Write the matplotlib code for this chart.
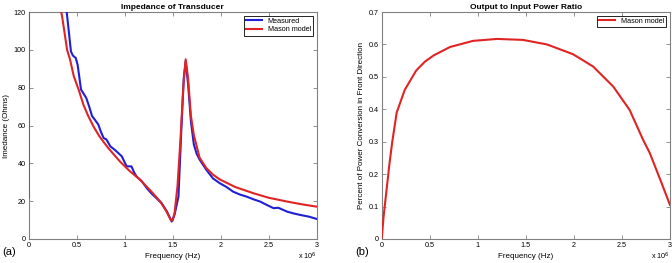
import matplotlib
matplotlib.use('Agg')
import matplotlib.pyplot as plt

plt.rcParams['font.family'] = ['Liberation Sans', 'DejaVu Sans']

# impedance, frequency in MHz
f_meas = [0.385, 0.396, 0.44, 0.46, 0.49, 0.51, 0.545, 0.57, 0.60, 0.63, 0.66, 0.69,
          0.725, 0.75, 0.78, 0.81, 0.85, 0.90, 0.97, 1.02, 1.07, 1.10, 1.125, 1.18,
          1.23, 1.28, 1.33, 1.385, 1.44, 1.49, 1.52, 1.56, 1.59, 1.615, 1.635, 1.66,
          1.69, 1.72, 1.75, 1.78, 1.85, 1.92, 1.99, 2.06, 2.13, 2.20, 2.27, 2.34,
          2.41, 2.48, 2.55, 2.60, 2.69, 2.76, 2.83, 2.92, 3.0]
z_meas = [126, 120, 99.2, 97, 95.7, 92, 79, 77, 74.5, 70, 65, 63,
          60.5, 57, 53.4, 52.6, 49, 47, 43.7, 38.4, 38.4, 35, 33, 30.4,
          26.9, 24, 21.6, 18.9, 14.5, 9.2, 13, 22.4, 57.8, 85, 94, 82,
          62, 50, 45, 42, 36.6, 32, 29.5, 27.5, 25, 23.5, 22.4, 21,
          19.8, 18, 16.3, 16.5, 14.5, 13.5, 12.7, 11.8, 10.6]

f_model = [0.0, 0.004, 0.32, 0.35, 0.40, 0.43, 0.47, 0.52, 0.57, 0.62, 0.68, 0.74,
           0.83, 0.95, 1.05, 1.16, 1.27, 1.37, 1.43, 1.48, 1.50, 1.52, 1.55, 1.58,
           1.61, 1.635, 1.66, 1.69, 1.72, 1.78, 1.85, 1.92, 1.99, 2.15, 2.34, 2.5,
           2.69, 2.85, 3.0]
z_model = [22, 300, 125, 117, 100, 95, 86, 79, 71, 65, 59, 54,
           48, 41, 36, 31.3, 25.5, 19.8, 15, 10, 9.8, 14, 28, 52,
           80, 95, 85, 65, 55, 43, 37.5, 34, 31.5, 27.5, 24.2, 21.8,
           19.8, 18.3, 17.1]

# power ratio
f_ratio = [0.0, 0.02, 0.05, 0.08, 0.11, 0.156, 0.24, 0.36, 0.45, 0.54, 0.71, 0.95,
           1.2, 1.47, 1.72, 1.99, 2.2, 2.41, 2.58, 2.72, 2.79, 2.9, 3.0]
p_ratio = [0.0, 0.07, 0.15, 0.23, 0.30, 0.39, 0.46, 0.52, 0.547, 0.566, 0.592, 0.611,
           0.617, 0.614, 0.60, 0.57, 0.532, 0.47, 0.398, 0.306, 0.265, 0.182, 0.105]

BLUE = '#1f1fd8'
RED = '#e02424'
GRAY = '#808080'
FS = 5.2


def style(ax):
    for s in ax.spines.values():
        s.set_color(GRAY)
        s.set_linewidth(0.8)
    ax.tick_params(direction='in', top=True, right=True, length=3, width=0.6,
                   color=GRAY, labelsize=FS, pad=2)
    ax.set_xlim(0, 3)
    ax.set_xticks([0, 0.5, 1, 1.5, 2, 2.5, 3])
    ax.set_xticklabels(['0', '0.5', '1', '1.5', '2', '2.5', '3'])
    ax.set_xlabel('Frequency (Hz)', fontsize=FS + 0.6, labelpad=3)
    ax.text(1.0, -0.05, r'x 10$^6$', transform=ax.transAxes, fontsize=FS,
            ha='right', va='top')


fig = plt.figure(figsize=(6.72, 2.63), dpi=100)

ax1 = fig.add_axes([0.0427, 0.0913, 0.4286, 0.863])
ax1.plot(f_meas, z_meas, color=BLUE, lw=1.5, label='Measured', zorder=3)
ax1.plot(f_model, z_model, color=RED, lw=1.5, label='Mason model', zorder=3)
ax1.set_ylim(0, 120)
ax1.set_yticks([0, 20, 40, 60, 80, 100, 120])
style(ax1)
ax1.set_title('Impedance of Transducer', fontsize=FS + 0.8, fontweight='bold', pad=2)
ax1.set_ylabel('Imedance (Ohms)', fontsize=FS + 0.6, labelpad=3)
ax1.legend(loc='upper right', fontsize=FS, handlelength=2.2, borderpad=0.3,
           labelspacing=0.2, fancybox=False, edgecolor='black',
           framealpha=1).get_frame().set_linewidth(0.6)
fig.text(0.003, 0.03, '(a)', fontsize=8)

ax2 = fig.add_axes([0.568, 0.0913, 0.429, 0.863])
ax2.plot(f_ratio, p_ratio, color=RED, lw=1.5, label='Mason model', zorder=3)
ax2.set_ylim(0, 0.7)
ax2.set_yticks([0, 0.1, 0.2, 0.3, 0.4, 0.5, 0.6, 0.7])
ax2.set_yticklabels(['0', '0.1', '0.2', '0.3', '0.4', '0.5', '0.6', '0.7'])
style(ax2)
ax2.set_title('Output to Input Power Ratio', fontsize=FS + 0.8, fontweight='bold', pad=2)
ax2.set_ylabel('Percent of Power Conversion in Front Direction', fontsize=FS + 0.6,
               labelpad=3)
ax2.legend(loc='upper right', fontsize=FS, handlelength=2.2, borderpad=0.3,
           fancybox=False, edgecolor='black',
           framealpha=1).get_frame().set_linewidth(0.6)
fig.text(0.528, 0.03, '(b)', fontsize=8)

fig.savefig('out.png', dpi=100)
